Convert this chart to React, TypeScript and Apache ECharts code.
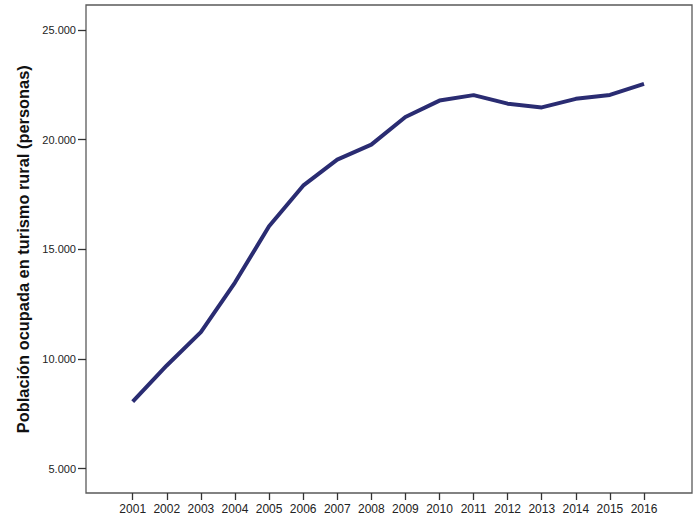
import React, { useEffect, useRef } from "react";
import * as echarts from "echarts";

const years = ["2001", "2002", "2003", "2004", "2005", "2006", "2007", "2008", "2009", "2010", "2011", "2012", "2013", "2014", "2015", "2016"];
const ocupados = [8050, 9700, 11220, 13480, 16050, 17900, 19090, 19770, 21030, 21780, 22030, 21640, 21470, 21860, 22040, 22540];
const yTicks = { min: 5000, max: 25000, interval: 5000 };
const yTitle = "Población ocupada en turismo rural (personas)";

const fmt = (v: number) => String(v).replace(/\B(?=(\d{3})+(?!\d))/g, ".");

export default function App() {
  const ref = useRef<HTMLDivElement>(null);
  useEffect(() => {
    if (!ref.current) return;
    const chart = echarts.init(ref.current, undefined, { renderer: "svg" });
    chart.setOption({
      animation: false,
      backgroundColor: "#ffffff",
      graphic: [
        {
          type: "rect",
          shape: { x: 86, y: 5, width: 606, height: 488 },
          style: { fill: "none", stroke: "#5a5a5a", lineWidth: 1.3 },
          z: 0,
        },
      ],
      grid: { left: 132.7, right: 56, top: 30, bottom: 50.5 },
      xAxis: {
        type: "category",
        data: years,
        boundaryGap: false,
        offset: 24.5,
        axisLine: { show: false },
        axisTick: { show: true, length: 7, lineStyle: { color: "#333", width: 1.3 } },
        axisLabel: { color: "#222", fontFamily: "Arial, 'Liberation Sans', sans-serif", fontSize: 12, margin: 10, interval: 0 },
        splitLine: { show: false },
      },
      yAxis: {
        type: "value",
        min: yTicks.min,
        max: yTicks.max,
        interval: yTicks.interval,
        offset: 46.7,
        name: yTitle,
        nameLocation: "middle",
        nameRotate: 90,
        nameGap: 50,
        nameTextStyle: { color: "#111", fontFamily: "Arial, 'Liberation Sans', sans-serif", fontSize: 16.4, fontWeight: "bold" },
        axisLine: { show: false },
        axisTick: { show: true, length: 8, lineStyle: { color: "#333", width: 1.3 } },
        axisLabel: { color: "#222", fontFamily: "Arial, 'Liberation Sans', sans-serif", fontSize: 11, margin: 10, formatter: (v: number) => fmt(v) },
        splitLine: { show: false },
      },
      series: [
        {
          type: "line",
          data: ocupados,
          showSymbol: false,
          symbol: "none",
          lineStyle: { color: "#2a2c72", width: 4 },
        },
      ],
    });
    return () => chart.dispose();
  }, []);
  return <div ref={ref} style={{ width: 700, height: 519, position: "absolute", left: 0, top: 0 }} />;
}
